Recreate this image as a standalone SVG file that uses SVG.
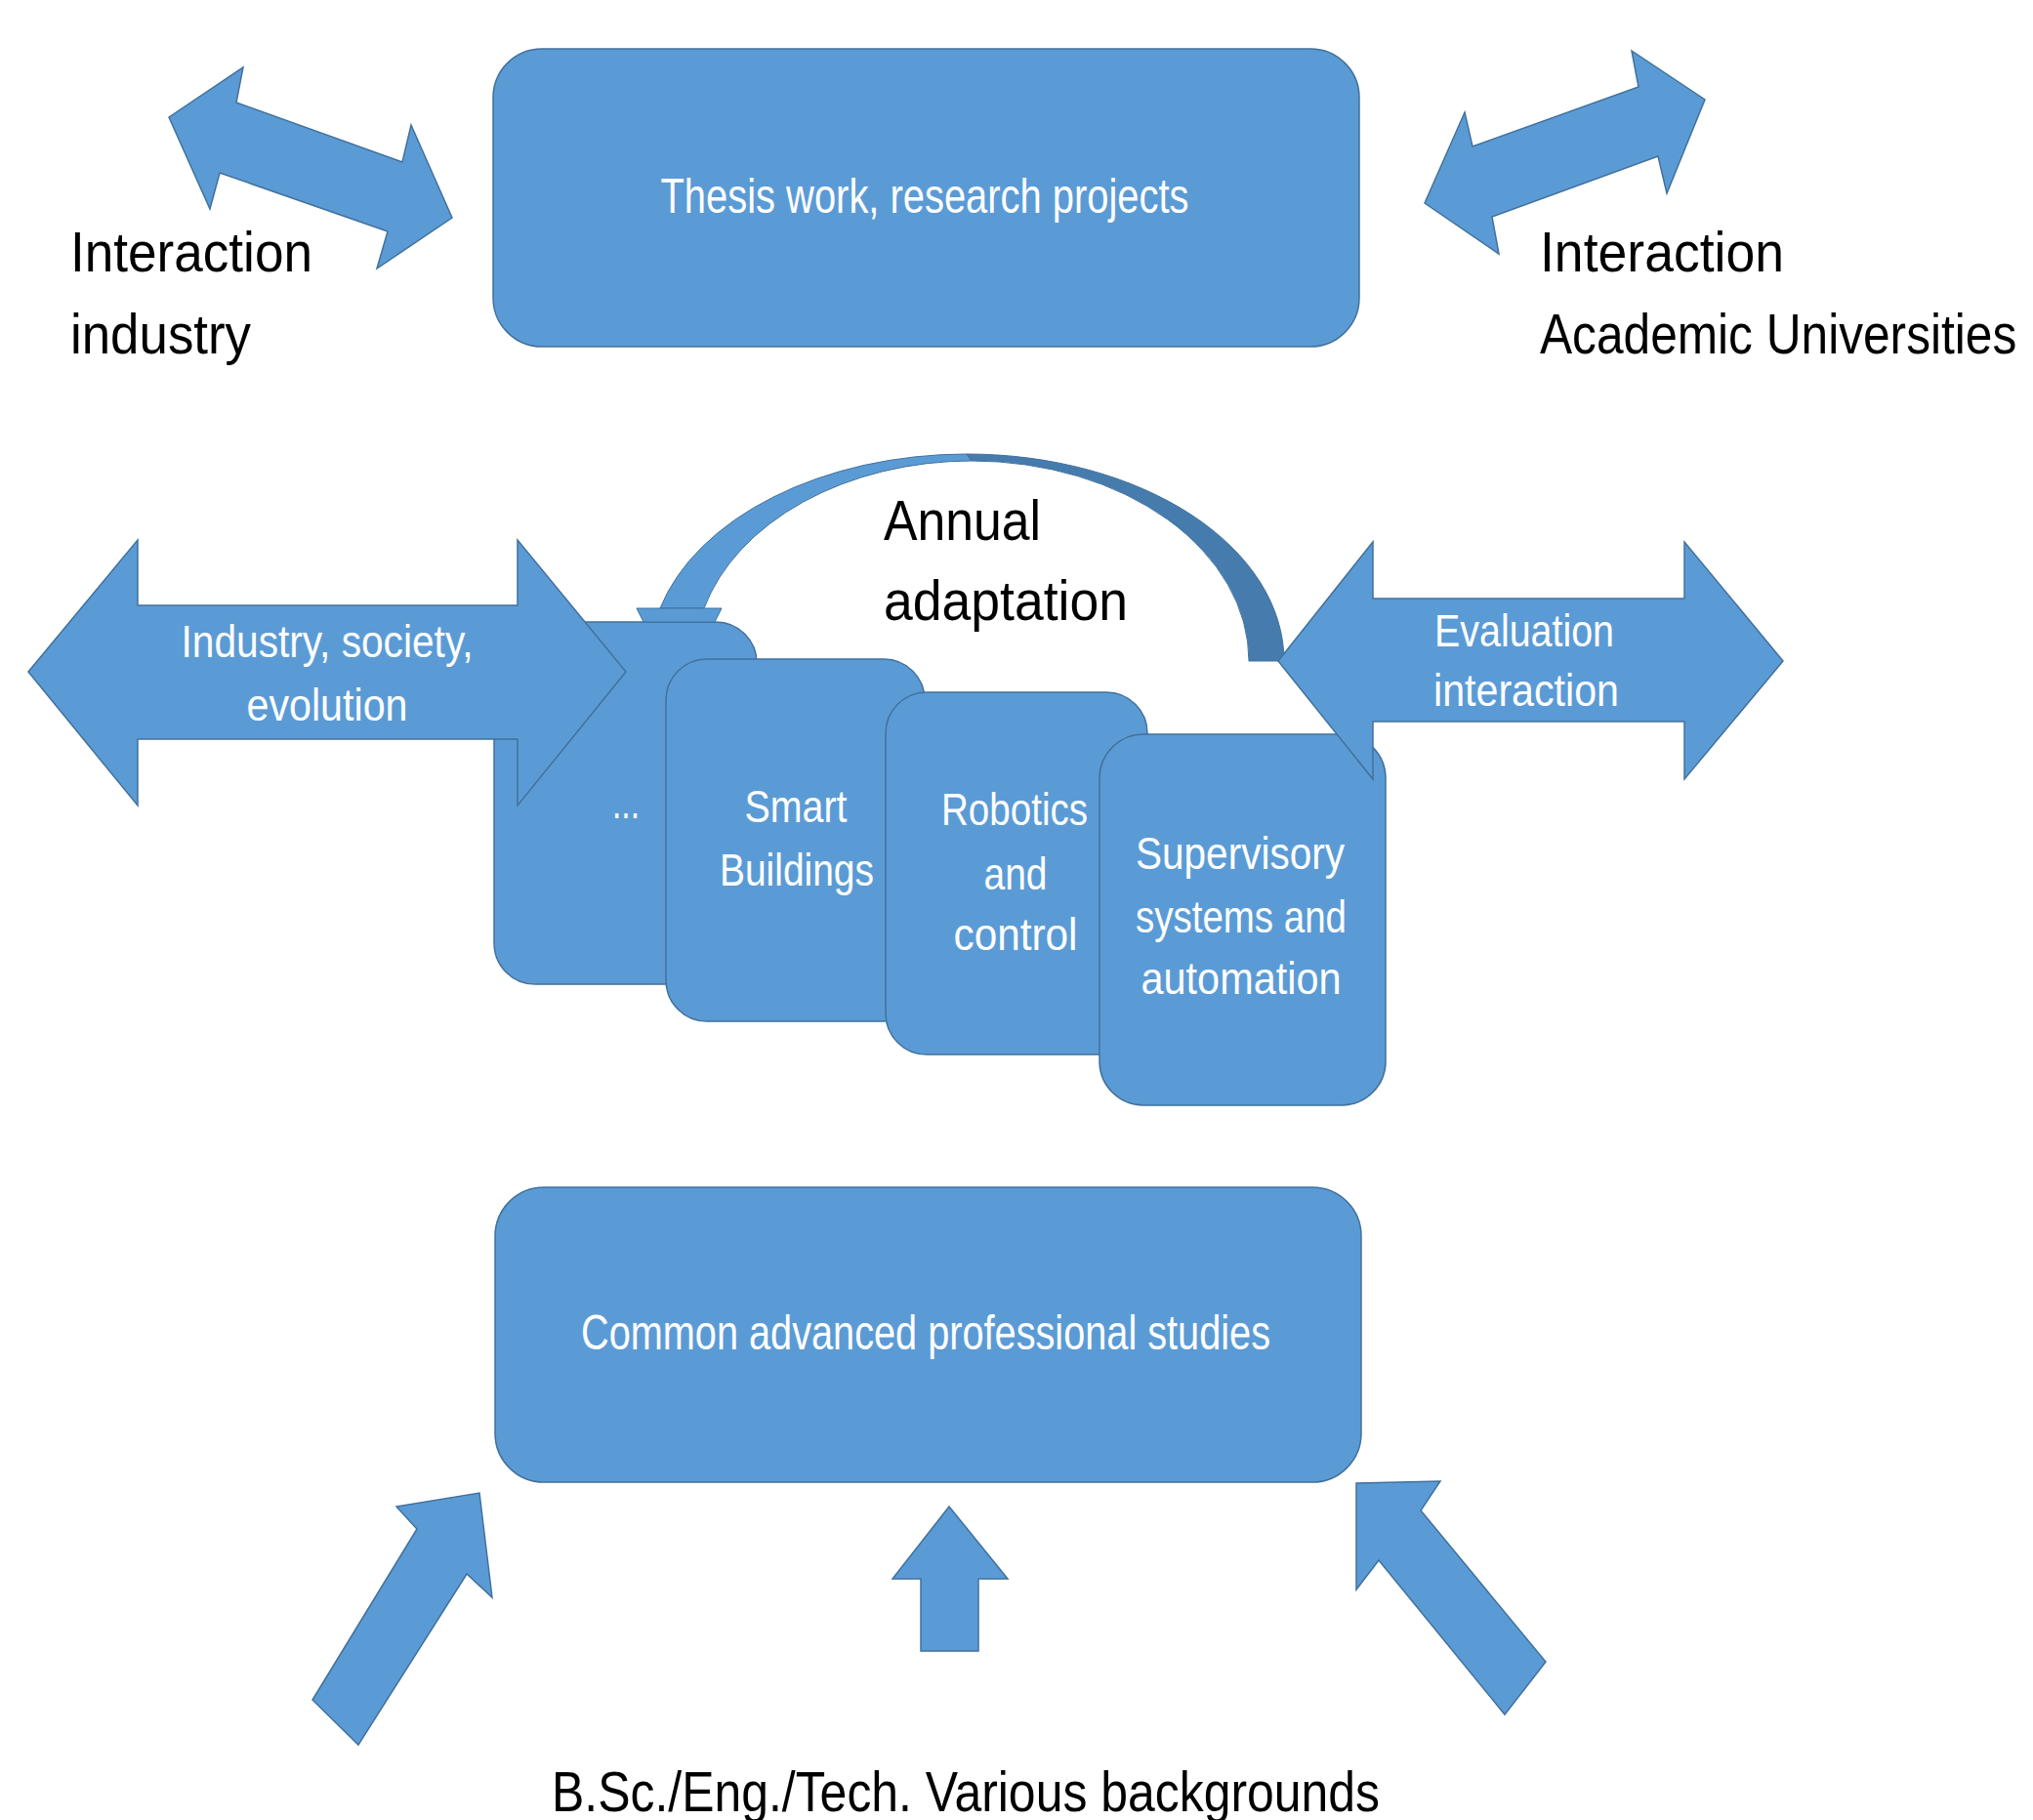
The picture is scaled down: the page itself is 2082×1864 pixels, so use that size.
<svg xmlns="http://www.w3.org/2000/svg" width="2082" height="1864" viewBox="0 0 2082 1864">
<style>
.shape{fill:#5b9bd5;stroke:#41719c;stroke-width:1.5}
.dark{fill:#467cad;stroke:#41719c;stroke-width:1}
.wt{font-family:"Liberation Sans",Arial,sans-serif;fill:#ffffff;font-size:46px}
.wl{font-size:50px}
.bt{font-family:"Liberation Sans",Arial,sans-serif;fill:#000000;font-size:58px}
</style>
<rect width="2082" height="1864" fill="#ffffff"/>

<g id="node-thesis">
<rect class="shape" x="505" y="50" width="887" height="305" rx="50"/>
<text class="wt wl" x="947" y="218" text-anchor="middle" textLength="541" lengthAdjust="spacingAndGlyphs">Thesis work, research projects</text>
</g>

<g id="node-more">
<rect class="shape" x="506" y="637" width="269" height="371" rx="42"/>
<text class="wt" x="641" y="838" text-anchor="middle" textLength="28" lengthAdjust="spacingAndGlyphs">...</text>
</g>

<g id="node-smart">
<rect class="shape" x="682" y="675" width="265" height="371" rx="42"/>
<text class="wt" x="815" y="842" text-anchor="middle" textLength="105" lengthAdjust="spacingAndGlyphs">Smart</text>
<text class="wt" x="816" y="907" text-anchor="middle" textLength="158" lengthAdjust="spacingAndGlyphs">Buildings</text>
</g>

<g id="node-robotics">
<rect class="shape" x="907" y="709" width="268" height="371" rx="42"/>
<text class="wt" x="1039" y="845" text-anchor="middle" textLength="150" lengthAdjust="spacingAndGlyphs">Robotics</text>
<text class="wt" x="1040" y="911" text-anchor="middle" textLength="65" lengthAdjust="spacingAndGlyphs">and</text>
<text class="wt" x="1040" y="973" text-anchor="middle" textLength="127" lengthAdjust="spacingAndGlyphs">control</text>
</g>

<g id="node-supervisory">
<rect class="shape" x="1126" y="752" width="293" height="380" rx="45"/>
<text class="wt" x="1270" y="890" text-anchor="middle" textLength="214" lengthAdjust="spacingAndGlyphs">Supervisory</text>
<text class="wt" x="1271" y="955" text-anchor="middle" textLength="216" lengthAdjust="spacingAndGlyphs">systems and</text>
<text class="wt" x="1271" y="1018" text-anchor="middle" textLength="205" lengthAdjust="spacingAndGlyphs">automation</text>
</g>

<g id="node-common">
<rect class="shape" x="507" y="1216" width="887" height="302" rx="50"/>
<text class="wt wl" x="948" y="1382" text-anchor="middle" textLength="706" lengthAdjust="spacingAndGlyphs">Common advanced professional studies</text>
</g>

<g id="connectors">
<!-- top left: interaction industry -->
<polygon class="shape" points="173,120 249,69 242,105 412,166 421,128 463,223 386,275 397,237 225,177 215,214"/>
<!-- top right: interaction academic -->
<polygon class="shape" points="1459,208 1500,115 1508,150 1678,89 1671,52 1746,102 1707,198 1698,160 1528,222 1535,260"/>
<!-- annual adaptation curved arrow -->
<path class="shape" style="stroke-width:1" d="M676,623 A325,212 0 0 1 990,465 L995,472 A284,205 0 0 0 721,623 Z"/>
<path class="dark" d="M990,465 A325,212 0 0 1 1315,677 L1279,677 A284,205 0 0 0 995,472 Z"/>
<polygon class="shape" style="stroke-width:1" points="652,623 739,623 732,637 659,637"/>
<!-- industry, society, evolution -->
<polygon class="shape" points="29,688 141,553 141,620 530,620 530,553 641,688 530,825 530,757 141,757 141,825"/>
<text class="wt" x="335" y="673" text-anchor="middle" textLength="299" lengthAdjust="spacingAndGlyphs">Industry, society,</text>
<text class="wt" x="335" y="738" text-anchor="middle" textLength="165" lengthAdjust="spacingAndGlyphs">evolution</text>
<!-- evaluation interaction -->
<polygon class="shape" points="1309,677 1406,555 1406,613 1725,613 1725,555 1826,677 1725,798 1725,739 1406,739 1406,798"/>
<text class="wt" x="1561" y="662" text-anchor="middle" textLength="184" lengthAdjust="spacingAndGlyphs">Evaluation</text>
<text class="wt" x="1563" y="723" text-anchor="middle" textLength="190" lengthAdjust="spacingAndGlyphs">interaction</text>
<!-- bottom arrows -->
<polygon class="shape" points="491,1529 504,1636 478,1612 367,1787 320,1741 427,1566 406,1543"/>
<polygon class="shape" points="972,1543 1032,1617 1002,1617 1002,1691 943,1691 943,1617 914,1617"/>
<polygon class="shape" points="1389,1519 1475,1517 1455,1547 1583,1702 1541,1756 1412,1598 1389,1628"/>
</g>

<g id="label-industry">
<text class="bt" x="72" y="278" textLength="248" lengthAdjust="spacingAndGlyphs">Interaction</text>
<text class="bt" x="72" y="362" textLength="185" lengthAdjust="spacingAndGlyphs">industry</text>
</g>
<g id="label-academic">
<text class="bt" x="1577" y="278" textLength="250" lengthAdjust="spacingAndGlyphs">Interaction</text>
<text class="bt" transform="translate(1577,362) scale(0.856,1)" x="0" y="0">Academic Universities</text>
</g>
<g id="label-annual">
<text class="bt" x="905" y="553" textLength="161" lengthAdjust="spacingAndGlyphs">Annual</text>
<text class="bt" x="905" y="635" textLength="250" lengthAdjust="spacingAndGlyphs">adaptation</text>
</g>
<g id="label-backgrounds">
<text class="bt" x="565" y="1855" textLength="848" lengthAdjust="spacingAndGlyphs">B.Sc./Eng./Tech. Various backgrounds</text>
</g>
</svg>
